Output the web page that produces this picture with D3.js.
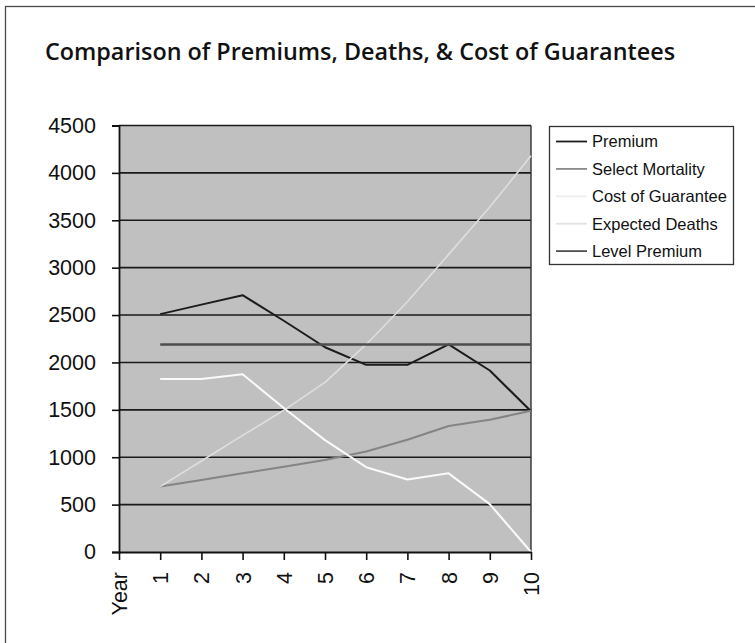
<!DOCTYPE html>
<html>
<head>
<meta charset="utf-8">
<script src="https://cdn.jsdelivr.net/npm/d3@7"></script>
<style>
  html, body { margin: 0; padding: 0; background: #fff; }
  svg { display: block; }
</style>
</head>
<body>
<svg id="chart" width="755" height="643"></svg>
<script>
const title = "Comparison of Premiums, Deaths, & Cost of Guarantees";
const categories = ["Year", "1", "2", "3", "4", "5", "6", "7", "8", "9", "10"];
const years = ["1", "2", "3", "4", "5", "6", "7", "8", "9", "10"];
const yTicks = [0, 500, 1000, 1500, 2000, 2500, 3000, 3500, 4000, 4500];

const seriesNames = ["Premium", "Select Mortality", "Cost of Guarantee", "Expected Deaths", "Level Premium"];
const premium          = [2510, 2610, 2710, 2440, 2160, 1975, 1975, 2190, 1915, 1485];
const selectMortality  = [690, 760, 830, 900, 970, 1060, 1185, 1330, 1395, 1490];
const costOfGuarantee  = [690, 960, 1230, 1495, 1790, 2190, 2640, 3140, 3640, 4180];
const expectedDeaths   = [1825, 1825, 1875, 1520, 1180, 895, 765, 830, 505, 0];
const levelPremium     = [2190, 2190, 2190, 2190, 2190, 2190, 2190, 2190, 2190, 2190];

const seriesData = [premium, selectMortality, costOfGuarantee, expectedDeaths, levelPremium];
const seriesColors = ["#1c1c1c", "#848484", "#dedede", "#fafafa", "#4e4e4e"];
const legendColors = ["#1c1c1c", "#8a8a8a", "#eeeeee", "#e2e2e2", "#4e4e4e"];
const seriesWidths = [2, 2, 1.6, 2, 2.6];

const svg = d3.select("#chart");

// outer frame (left/top visible)
svg.append("rect")
  .attr("x", 5.5).attr("y", 6.5)
  .attr("width", 900).attr("height", 900)
  .attr("fill", "none").attr("stroke", "#4a4a4a").attr("stroke-width", 1.3);

// title
svg.append("text")
  .attr("x", 45).attr("y", 60)
  .attr("font-family", "'Open Sans', Lato, sans-serif")
  .attr("font-weight", 600)
  .attr("font-size", 22.5)
  .attr("textLength", 630)
  .attr("lengthAdjust", "spacingAndGlyphs")
  .attr("fill", "#111")
  .text(title);

const x = d3.scalePoint().domain(categories).range([119, 531]);
const y = d3.scaleLinear().domain([0, 4500]).range([552, 125.5]);

const plotL = x("Year"), plotR = x("10"), plotT = y(4500), plotB = y(0);

// plot background
svg.append("rect")
  .attr("x", plotL).attr("y", plotT)
  .attr("width", plotR - plotL).attr("height", plotB - plotT)
  .attr("fill", "#c0c0c0");

// gridlines
svg.append("g")
  .selectAll("line")
  .data(yTicks.filter(d => d > 0))
  .join("line")
  .attr("x1", plotL).attr("x2", plotR)
  .attr("y1", d => y(d)).attr("y2", d => y(d))
  .attr("stroke", "#1a1a1a").attr("stroke-width", 1.6);

// right border
svg.append("line")
  .attr("x1", plotR).attr("x2", plotR)
  .attr("y1", plotT).attr("y2", plotB)
  .attr("stroke", "#333").attr("stroke-width", 1.4);

// series lines
const line = d3.line()
  .x((d, i) => x(years[i]))
  .y(d => y(d));

svg.append("g")
  .selectAll("path")
  .data(seriesData)
  .join("path")
  .attr("d", d => line(d))
  .attr("fill", "none")
  .attr("stroke", (d, i) => seriesColors[i])
  .attr("stroke-width", (d, i) => seriesWidths[i])
  .attr("stroke-linejoin", "round");

// y axis
const yAxis = svg.append("g")
  .attr("transform", `translate(${plotL},0)`)
  .call(d3.axisLeft(y).tickValues(yTicks).tickSize(7).tickPadding(16).tickFormat(d3.format("d")));
yAxis.select(".domain").attr("stroke", "#111").attr("stroke-width", 1.8);
yAxis.selectAll(".tick line").attr("stroke", "#111").attr("stroke-width", 1.6);
yAxis.selectAll(".tick text")
  .attr("font-family", "'Liberation Sans', Arial, sans-serif")
  .attr("font-size", 21.5)
  .attr("fill", "#111");

// x axis
const xAxis = svg.append("g")
  .attr("transform", `translate(0,${plotB})`)
  .call(d3.axisBottom(x).tickSize(8).tickSizeOuter(0));
xAxis.select(".domain").attr("stroke", "#111").attr("stroke-width", 1.8);
xAxis.selectAll(".tick line").attr("stroke", "#111").attr("stroke-width", 1.6);
xAxis.selectAll(".tick text")
  .attr("font-family", "'Liberation Sans', Arial, sans-serif")
  .attr("font-size", 21.5)
  .attr("fill", "#111")
  .attr("transform", "rotate(-90)")
  .attr("x", -20)
  .attr("y", 0)
  .attr("dy", "0.35em")
  .attr("text-anchor", "end");

// legend
const legend = svg.append("g");
legend.append("rect")
  .attr("x", 549.5).attr("y", 126.5)
  .attr("width", 184).attr("height", 138)
  .attr("fill", "#fff").attr("stroke", "#333").attr("stroke-width", 1.3);

const legendRows = legend.selectAll("g.row")
  .data(seriesNames)
  .join("g")
  .attr("class", "row")
  .attr("transform", (d, i) => `translate(0,${141.5 + i * 27.4})`);

legendRows.append("line")
  .attr("x1", 556).attr("x2", 587)
  .attr("y1", 0).attr("y2", 0)
  .attr("stroke", (d, i) => legendColors[i])
  .attr("stroke-width", 1.8);

legendRows.append("text")
  .attr("x", 592).attr("y", 0).attr("dy", "0.36em")
  .attr("font-family", "'Liberation Sans', Arial, sans-serif")
  .attr("font-size", 16.5)
  .attr("fill", "#111")
  .text(d => d);
</script>
</body>
</html>
